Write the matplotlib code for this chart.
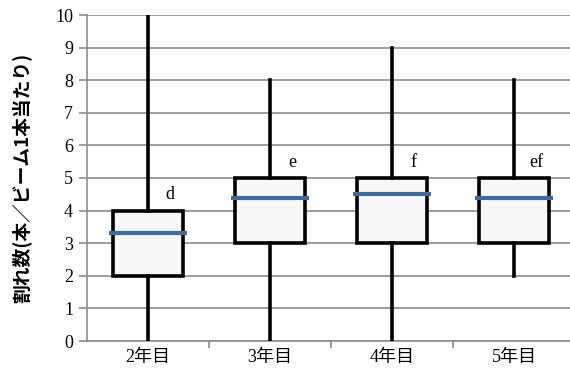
import matplotlib
matplotlib.use("Agg")
import matplotlib.pyplot as plt

categories = ["2年目", "3年目", "4年目", "5年目"]
mins = [0, 0, 0, 2]
q1s = [2, 3, 3, 3]
q3s = [4, 5, 5, 5]
maxs = [10, 8, 9, 8]
means = [3.3, 4.4, 4.5, 4.4]
letters = ["d", "e", "f", "ef"]

serif = ["Liberation Serif", "Noto Sans CJK JP"]

fig = plt.figure(figsize=(5.7, 3.76), dpi=100)
ax = fig.add_axes([87 / 570, 35 / 376, 483 / 570, 326 / 376])

stats = []
for lab, lo, a, b, hi in zip(categories, mins, q1s, q3s, maxs):
    stats.append({"label": lab, "whislo": lo, "q1": a, "med": a,
                  "q3": b, "whishi": hi})

pos = list(range(1, len(categories) + 1))
ax.bxp(stats, positions=pos, widths=0.57, patch_artist=True,
       showcaps=False, showfliers=False,
       boxprops=dict(facecolor="#f7f7f7", edgecolor="black", linewidth=2.6),
       whiskerprops=dict(color="black", linewidth=2.6),
       medianprops=dict(linewidth=0), zorder=3)

# mean markers, a bit wider than the boxes
for p, m in zip(pos, means):
    ax.hlines(m, p - 0.32, p + 0.32, color="#3f6aa0", linewidth=3, zorder=4)

for p, b, t in zip(pos, q3s, letters):
    ax.text(p + 0.18, b + 0.22, t, ha="center", va="bottom",
            fontsize=13, family=serif, zorder=5)

ax.set_ylim(0, 10)
ax.set_xlim(0.5, 4.46)
ax.set_yticks(range(0, 11))
ax.set_yticklabels([str(i) for i in range(0, 11)], family=serif, fontsize=13)
ax.yaxis.grid(True, color="#8c8c8c", linewidth=1.2)
ax.set_axisbelow(True)

ax.set_xticks([1.5, 2.5, 3.5], minor=False)
ax.set_xticklabels([])
ax.set_xticks(pos, minor=True)
ax.set_xticklabels(categories, minor=True, family=serif, fontsize=13)
ax.tick_params(axis="x", which="minor", length=0, pad=6)
ax.tick_params(axis="x", which="major", length=5, color="#8c8c8c", width=1.2)
ax.tick_params(axis="y", length=6, color="#8c8c8c", width=1.2, pad=4)

for side in ["top", "right"]:
    ax.spines[side].set_visible(False)
for side in ["left", "bottom"]:
    ax.spines[side].set_color("#8c8c8c")
    ax.spines[side].set_linewidth(1.2)

ax.set_ylabel("割れ数(本／ビーム1本当たり)", family=["Noto Sans CJK JP", "DejaVu Sans"],
              fontsize=13.5, fontweight="bold", labelpad=17)

fig.savefig("out.png", dpi=100)
